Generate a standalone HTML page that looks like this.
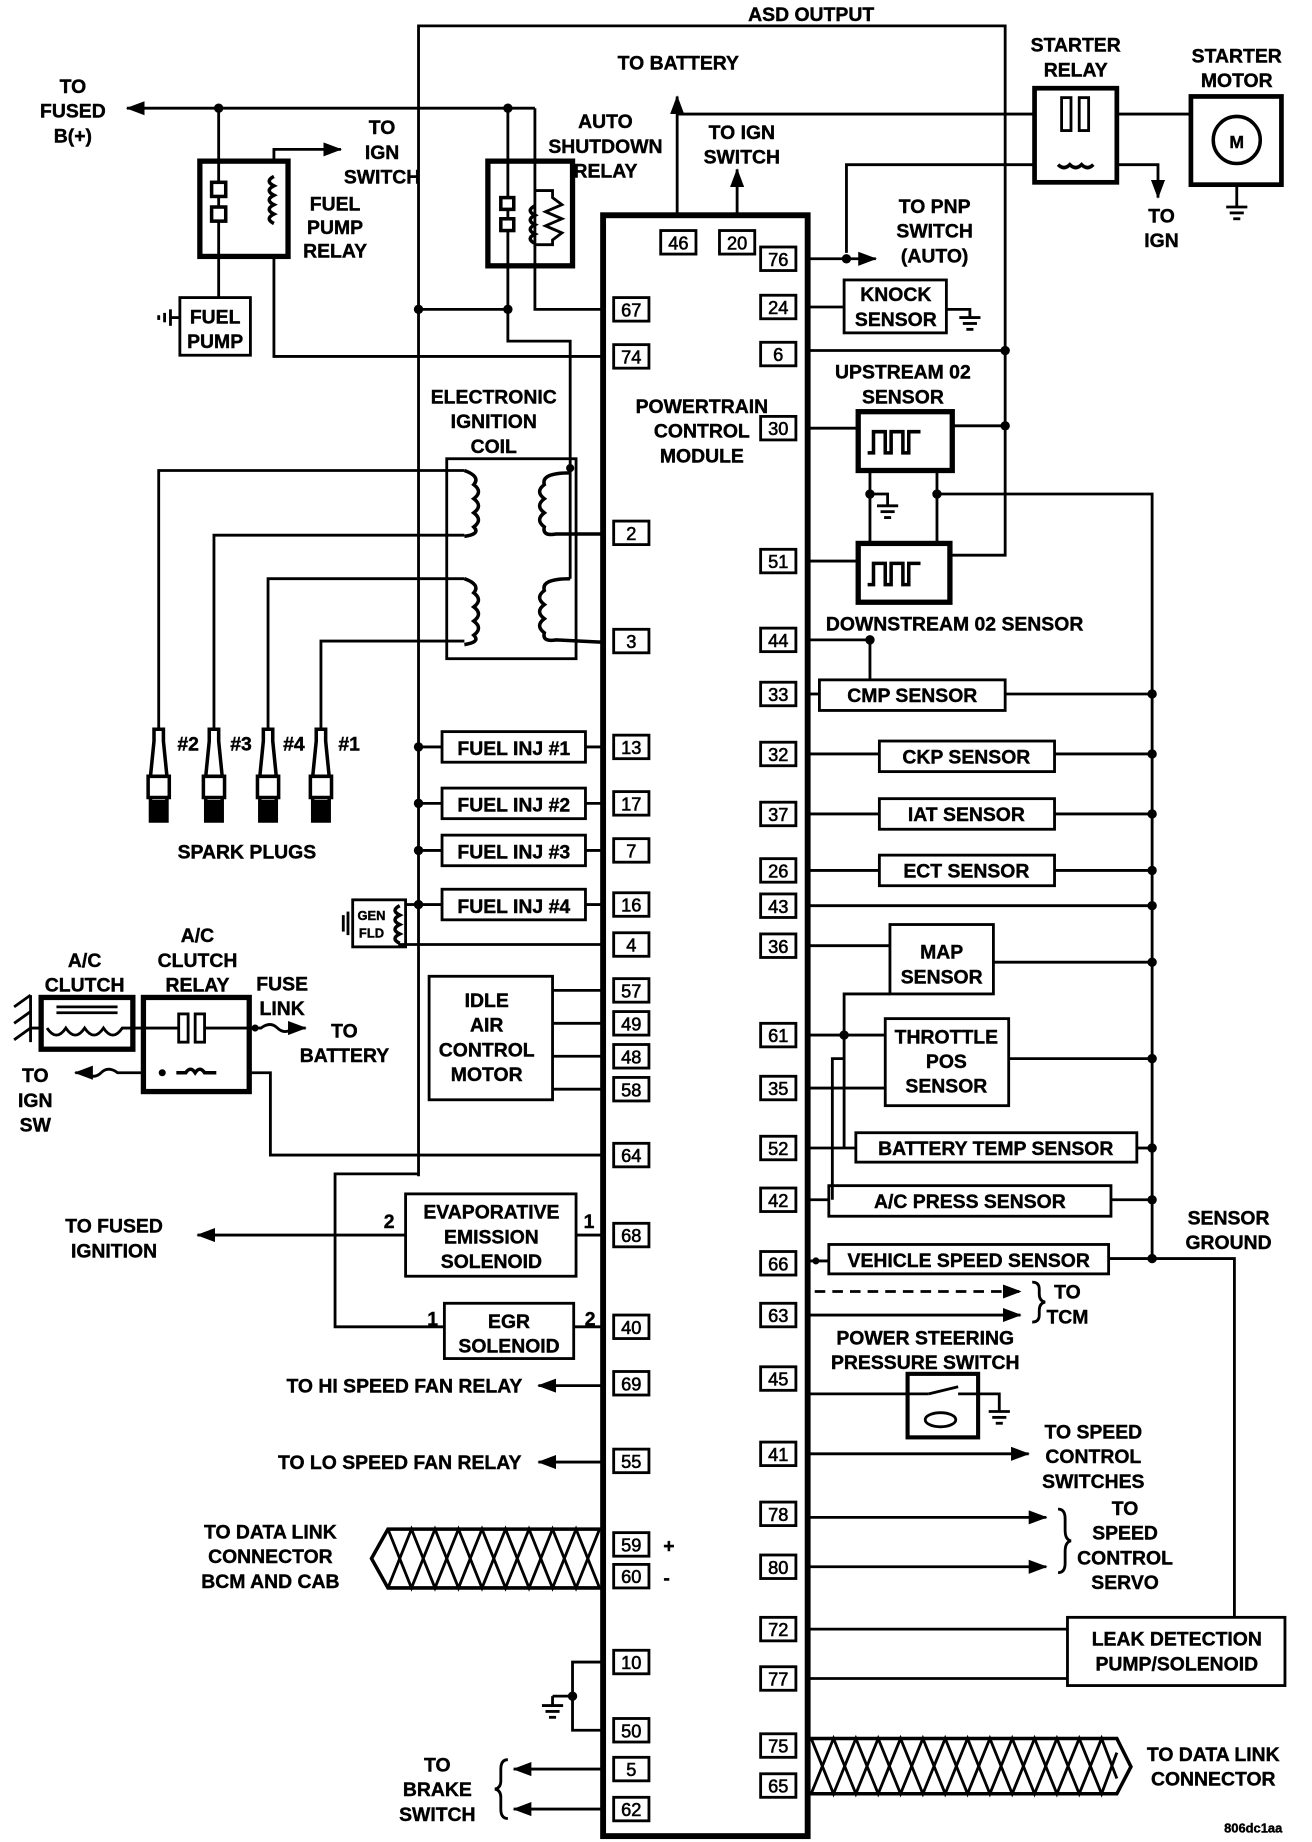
<!DOCTYPE html>
<html><head><meta charset="utf-8"><style>
html,body{margin:0;padding:0;background:#fff;}
svg{display:block;}
text{font-family:"Liberation Sans",sans-serif;font-weight:bold;font-size:16.5px;text-anchor:middle;fill:#000;stroke:#000;stroke-width:0.35px;}
.p{font-size:15.5px;font-weight:normal;stroke-width:0.5px;}
.s{font-size:11px;}
</style></head><body>
<svg width="1312" height="1842" viewBox="0 0 1116 1566" preserveAspectRatio="none" xmlns="http://www.w3.org/2000/svg">
<defs>
<marker id="b" markerWidth="16" markerHeight="12" refX="15" refY="6" orient="auto" markerUnits="userSpaceOnUse"><path d="M0,0 L16,6 L0,12 z" fill="#000"/></marker>
</defs>
<g fill="none" stroke="#000" stroke-width="2.4">
<polyline points="356,1000 356,22 855,22 855,472 808,472"/>
<line x1="576" y1="183" x2="576" y2="82" marker-end="url(#b)"/>
<line x1="627" y1="183" x2="627" y2="144" marker-end="url(#b)"/>
<line x1="576" y1="97" x2="880" y2="97"/>
<line x1="950" y1="97" x2="1013" y2="97"/>
<rect x="880" y="75" width="70" height="80" stroke-width="4"/>
<rect x="903" y="83" width="8" height="28"/><rect x="918" y="83" width="8" height="28"/>
<polyline points="720,215 720,140 880,140"/>
<polyline points="950,140 985,140 985,168" marker-end="url(#b)"/>
<path d="M900,140 q5,5 10,0 q5,5 10,0 q5,5 10,0" stroke-width="3"/>
<rect x="1013" y="82" width="77" height="75" stroke-width="4"/>
<circle cx="1052" cy="119" r="20" stroke-width="3"/>
<line x1="1052" y1="157" x2="1052" y2="176"/>
<line x1="1043" y1="176" x2="1061" y2="176"/><line x1="1046" y1="181" x2="1058" y2="181"/><line x1="1049" y1="186" x2="1055" y2="186"/>
<line x1="455" y1="92" x2="108" y2="92" marker-end="url(#b)"/>
<rect x="170" y="137" width="75" height="81" stroke-width="4.5"/>
<line x1="186" y1="92" x2="186" y2="253"/>
<rect x="180" y="155" width="12" height="12" fill="#fff" stroke-width="3"/><rect x="180" y="176" width="12" height="12" fill="#fff" stroke-width="3"/>
<polyline points="233,217 233,303 513,303"/>
<polyline points="233,137 233,127 290,127" marker-end="url(#b)"/>
<path d="M233,150 q-8,4 0,8 q-8,4 0,8 q-8,4 0,8 q-8,4 0,8 q-8,4 0,8" stroke-width="3"/>
<rect x="153" y="253" width="60" height="49"/>
<line x1="153" y1="270" x2="145" y2="270"/><line x1="145" y1="263" x2="145" y2="277"/><line x1="140" y1="266" x2="140" y2="274"/><line x1="135" y1="268" x2="135" y2="272"/>
<rect x="415" y="137" width="72" height="89" stroke-width="4.5"/>
<polyline points="432,92 432,290 485,290 485,398"/>
<rect x="426" y="168" width="11" height="10" fill="#fff" stroke-width="3"/><rect x="426" y="186" width="11" height="10" fill="#fff" stroke-width="3"/>
<polyline points="455,92 455,263 513,263"/>
<path d="M455,175 q-8,4 0,8 q-8,4 0,8 q-8,4 0,8 q-8,4 0,8" stroke-width="3"/>
<polyline points="455,162 470,162 470,168 478,174 464,180 478,186 464,192 478,198 470,204 470,208 455,208"/>
<line x1="356" y1="263" x2="432" y2="263"/>
<rect x="380" y="390" width="110" height="170"/>
<polyline points="135,620 135,400 395,400"/>
<polyline points="182,620 182,455 395,455"/>
<polyline points="228,620 228,492 395,492"/>
<polyline points="273,620 273,545 395,545"/>
<g stroke-width="3">
<path d="M395,400 q14,5 8,12 q8,6 0,12 q8,6 0,12 q8,6 0,12 q6,6 -8,8"/>
<path d="M395,492 q14,5 8,12 q8,6 0,12 q8,6 0,12 q8,6 0,12 q6,6 -8,8"/>
<path d="M485,402 q-25,0 -22,10 q-8,6 0,12 q-8,6 0,12 q-8,6 0,12 q-2,8 10,6 L513,454"/>
<path d="M485,492 q-25,0 -22,10 q-8,6 0,12 q-8,6 0,12 q-8,6 0,12 q-2,8 10,6 L513,546"/>
</g>
<line x1="485" y1="398" x2="485" y2="492"/>
<g stroke-width="3">
<path d="M131,620 h8 v10 l3,30 h-14 l3,-30 z M126,660 h18 v18 h-18 z M128,678 h14 v20 h-14 z"/>
<path d="M178,620 h8 v10 l3,30 h-14 l3,-30 z M173,660 h18 v18 h-18 z M175,678 h14 v20 h-14 z"/>
<path d="M224,620 h8 v10 l3,30 h-14 l3,-30 z M219,660 h18 v18 h-18 z M221,678 h14 v20 h-14 z"/>
<path d="M269,620 h8 v10 l3,30 h-14 l3,-30 z M264,660 h18 v18 h-18 z M266,678 h14 v20 h-14 z"/>
</g>
<g fill="#000" stroke="none"><rect x="128" y="680" width="14" height="18"/><rect x="175" y="680" width="14" height="18"/><rect x="221" y="680" width="14" height="18"/><rect x="266" y="680" width="14" height="18"/></g>
<line x1="356" y1="635" x2="376" y2="635"/><rect x="376" y="622" width="122" height="26"/><line x1="498" y1="635" x2="513" y2="635"/>
<line x1="356" y1="683" x2="376" y2="683"/><rect x="376" y="670" width="122" height="26"/><line x1="498" y1="683" x2="513" y2="683"/>
<line x1="356" y1="723" x2="376" y2="723"/><rect x="376" y="710" width="122" height="26"/><line x1="498" y1="723" x2="513" y2="723"/>
<line x1="356" y1="769" x2="376" y2="769"/><rect x="376" y="756" width="122" height="26"/><line x1="498" y1="769" x2="513" y2="769"/>
<rect x="300" y="765" width="45" height="40"/>
<line x1="345" y1="769" x2="356" y2="769"/>
<polyline points="340,805 340,803 513,803"/>
<path d="M340,770 q-8,4 0,8 q-8,4 0,8 q-8,4 0,8 q-8,4 0,8" stroke-width="3"/>
<line x1="296" y1="775" x2="296" y2="795"/><line x1="292" y1="778" x2="292" y2="792"/>
<rect x="365" y="830" width="105" height="105"/>
<line x1="470" y1="842" x2="513" y2="842"/><line x1="470" y1="870" x2="513" y2="870"/><line x1="470" y1="898" x2="513" y2="898"/><line x1="470" y1="926" x2="513" y2="926"/>
<rect x="35" y="848" width="78" height="44" stroke-width="4.5"/>
<line x1="48" y1="856" x2="100" y2="856"/><line x1="48" y1="861" x2="100" y2="861"/>
<path d="M40,874 q8,12 16,0 q8,12 16,0 q8,12 16,0 q8,12 16,0 L113,874 L122,874"/>
<path d="M12,856 l14,-10 M12,870 l14,-10 M12,884 l14,-10 M26,846 v40 M26,874 h10"/>
<rect x="122" y="848" width="90" height="80" stroke-width="4.5"/>
<line x1="122" y1="874" x2="152" y2="874"/>
<rect x="152" y="862" width="8" height="24"/><rect x="166" y="862" width="8" height="24"/>
<line x1="174" y1="874" x2="212" y2="874"/>
<path d="M212,874 h10 q8,-6 14,0 t14,0 h10" marker-end="url(#b)"/>
<polyline points="212,912 230,912 230,982 513,982"/>
<path d="M122,912 h-22 q-8,-6 -14,0 t-14,0 h-8" marker-end="url(#b)"/>
<path d="M150,912 h8 q4,-6 8,0 q4,-6 8,0 h10" stroke-width="3"/>
<polyline points="356,998 285,998 285,1128 378,1128"/>
<rect x="345" y="1015" width="145" height="70"/>
<line x1="345" y1="1050" x2="168" y2="1050" marker-end="url(#b)"/>
<line x1="490" y1="1050" x2="513" y2="1050"/>
<rect x="378" y="1108" width="110" height="47"/>
<line x1="488" y1="1128" x2="513" y2="1128"/>
<line x1="513" y1="1178" x2="458" y2="1178" marker-end="url(#b)"/>
<line x1="513" y1="1243" x2="458" y2="1243" marker-end="url(#b)"/>
<polyline points="513,1300 330,1300 316,1325 330,1350 513,1350" stroke-width="3"/>
<path d="M330,1300 L350,1350 L370,1300 L390,1350 L410,1300 L430,1350 L450,1300 L470,1350 L490,1300 L510,1350"/>
<path d="M330,1350 L350,1300 L370,1350 L390,1300 L410,1350 L430,1300 L450,1350 L470,1300 L490,1350 L510,1300"/>
<polyline points="513,1413 487,1413 487,1471 513,1471"/>
<line x1="487" y1="1442" x2="470" y2="1442"/>
<line x1="470" y1="1442" x2="470" y2="1450"/><line x1="461" y1="1450" x2="479" y2="1450"/><line x1="464" y1="1455" x2="476" y2="1455"/><line x1="467" y1="1460" x2="473" y2="1460"/>
<line x1="513" y1="1504" x2="437" y2="1504" marker-end="url(#b)"/>
<line x1="513" y1="1538" x2="437" y2="1538" marker-end="url(#b)"/>
<path d="M432,1496 q-6,0 -6,8 v10 q0,6 -5,7 q5,1 5,7 v10 q0,8 6,8"/>
<line x1="687" y1="220" x2="745" y2="220" marker-end="url(#b)"/>
<rect x="718" y="238" width="87" height="45"/>
<line x1="687" y1="261" x2="718" y2="261"/>
<polyline points="805,263 825,263 825,270"/><line x1="816" y1="270" x2="834" y2="270"/><line x1="819" y1="275" x2="831" y2="275"/><line x1="822" y1="280" x2="828" y2="280"/>
<line x1="687" y1="298" x2="855" y2="298"/>
<rect x="730" y="350" width="80" height="50" stroke-width="4.5"/>
<path d="M738,385 h5 v-18 h10 v18 h5 v-18 h10 v18 h5 v-18 h10" stroke-width="3"/>
<line x1="687" y1="364" x2="730" y2="364"/><line x1="810" y1="362" x2="855" y2="362"/>
<line x1="740" y1="400" x2="740" y2="462"/>
<polyline points="797,400 797,462"/>
<polyline points="797,420 980,420 980,1070"/>
<polyline points="740,420 755,420 755,430"/><line x1="746" y1="430" x2="764" y2="430"/><line x1="749" y1="435" x2="761" y2="435"/><line x1="752" y1="440" x2="758" y2="440"/>
<rect x="730" y="462" width="78" height="50" stroke-width="4.5"/>
<path d="M738,497 h5 v-18 h10 v18 h5 v-18 h10 v18 h5 v-18 h10" stroke-width="3"/>
<line x1="687" y1="477" x2="730" y2="477"/>
<polyline points="687,544 740,544 740,578"/>
<rect x="697" y="578" width="158" height="26"/><line x1="687" y1="590" x2="697" y2="590"/><line x1="855" y1="590" x2="980" y2="590"/>
<rect x="748" y="630" width="149" height="26"/><line x1="687" y1="641" x2="748" y2="641"/><line x1="897" y1="641" x2="980" y2="641"/>
<rect x="748" y="679" width="149" height="26"/><line x1="687" y1="692" x2="748" y2="692"/><line x1="897" y1="692" x2="980" y2="692"/>
<rect x="748" y="727" width="149" height="26"/><line x1="687" y1="740" x2="748" y2="740"/><line x1="897" y1="740" x2="980" y2="740"/>
<line x1="687" y1="770" x2="980" y2="770"/>
<rect x="757" y="786" width="88" height="59"/><line x1="687" y1="804" x2="757" y2="804"/><line x1="845" y1="818" x2="980" y2="818"/>
<polyline points="757,845 718,845 718,976"/>
<rect x="753" y="866" width="105" height="74"/><line x1="687" y1="880" x2="753" y2="880"/><line x1="687" y1="925" x2="753" y2="925"/><line x1="858" y1="900" x2="980" y2="900"/>
<polyline points="718,900 708,900 708,1020"/>
<rect x="728" y="963" width="239" height="25"/><line x1="687" y1="976" x2="728" y2="976"/><line x1="967" y1="976" x2="980" y2="976"/>
<rect x="705" y="1008" width="240" height="26"/><line x1="687" y1="1020" x2="705" y2="1020"/><line x1="945" y1="1020" x2="980" y2="1020"/>
<rect x="705" y="1058" width="238" height="25"/><line x1="687" y1="1072" x2="705" y2="1072"/>
<polyline points="943,1070 1050,1070 1050,1375"/>
<line x1="693" y1="1098" x2="868" y2="1098" stroke-dasharray="9,6" marker-end="url(#b)"/>
<line x1="687" y1="1118" x2="868" y2="1118" marker-end="url(#b)"/>
<path d="M878,1090 q6,0 6,6 v4 q0,6 5,7 q-5,1 -5,7 v4 q0,6 -6,6"/>
<rect x="772" y="1168" width="60" height="54" stroke-width="3.5"/>
<line x1="687" y1="1185" x2="790" y2="1185"/><path d="M790,1185 l25,-6 M815,1185 h35 v15"/><ellipse cx="800" cy="1207" rx="13" ry="6"/>
<line x1="841" y1="1200" x2="859" y2="1200"/><line x1="844" y1="1205" x2="856" y2="1205"/><line x1="847" y1="1210" x2="853" y2="1210"/>
<line x1="687" y1="1236" x2="875" y2="1236" marker-end="url(#b)"/>
<line x1="687" y1="1290" x2="890" y2="1290" marker-end="url(#b)"/>
<line x1="687" y1="1332" x2="890" y2="1332" marker-end="url(#b)"/>
<path d="M900,1283 q6,0 6,8 v10 q0,8 5,9 q-5,1 -5,9 v10 q0,8 -6,8"/>
<rect x="908" y="1375" width="185" height="58"/>
<line x1="687" y1="1385" x2="908" y2="1385"/><line x1="687" y1="1427" x2="908" y2="1427"/>
<polyline points="687,1478 950,1478 962,1502 950,1525 687,1525" stroke-width="3"/>
<path d="M690,1478 L709,1525 L728,1478 L747,1525 L766,1478 L785,1525 L804,1478 L823,1525 L842,1478 L861,1525 L880,1478 L899,1525 L918,1478 L937,1525 L950,1490"/>
<path d="M690,1525 L709,1478 L728,1525 L747,1478 L766,1525 L785,1478 L804,1525 L823,1478 L842,1525 L861,1478 L880,1525 L899,1478 L918,1525 L937,1478 L950,1512"/>
<rect x="513" y="183" width="174" height="1378" stroke-width="5"/>
</g>
<g fill="#000">
<circle cx="186" cy="92" r="4"/><circle cx="432" cy="92" r="4"/><circle cx="356" cy="263" r="4"/><circle cx="432" cy="263" r="4"/>
<circle cx="485" cy="398" r="3.5"/>
<circle cx="356" cy="635" r="4"/><circle cx="356" cy="683" r="4"/><circle cx="356" cy="723" r="4"/><circle cx="356" cy="769" r="4"/>
<circle cx="487" cy="1442" r="4"/><circle cx="720" cy="220" r="4"/><circle cx="855" cy="298" r="4"/><circle cx="855" cy="362" r="4"/>
<circle cx="740" cy="420" r="4"/><circle cx="797" cy="420" r="4"/><circle cx="740" cy="544" r="4"/>
<circle cx="980" cy="590" r="4"/><circle cx="980" cy="641" r="4"/><circle cx="980" cy="692" r="4"/><circle cx="980" cy="740" r="4"/><circle cx="980" cy="770" r="4"/><circle cx="980" cy="818" r="4"/><circle cx="980" cy="900" r="4"/><circle cx="980" cy="976" r="4"/><circle cx="980" cy="1020" r="4"/><circle cx="980" cy="1070" r="4"/>
<circle cx="718" cy="880" r="4"/><circle cx="694" cy="1072" r="3"/>
<circle cx="217" cy="874" r="3"/><circle cx="138" cy="912" r="3"/>
</g>
<g fill="#fff" stroke="#000" stroke-width="2.4">
<rect x="562" y="196" width="30" height="20"/><rect x="612" y="196" width="30" height="20"/>
<rect x="522" y="253" width="30" height="20"/><rect x="522" y="293" width="30" height="20"/><rect x="522" y="443" width="30" height="20"/><rect x="522" y="535" width="30" height="20"/>
<rect x="522" y="625" width="30" height="20"/><rect x="522" y="673" width="30" height="20"/><rect x="522" y="713" width="30" height="20"/><rect x="522" y="759" width="30" height="20"/>
<rect x="522" y="793" width="30" height="20"/><rect x="522" y="832" width="30" height="20"/><rect x="522" y="860" width="30" height="20"/><rect x="522" y="888" width="30" height="20"/>
<rect x="522" y="916" width="30" height="20"/><rect x="522" y="972" width="30" height="20"/><rect x="522" y="1040" width="30" height="20"/><rect x="522" y="1118" width="30" height="20"/>
<rect x="522" y="1166" width="30" height="20"/><rect x="522" y="1232" width="30" height="20"/><rect x="522" y="1303" width="30" height="20"/><rect x="522" y="1330" width="30" height="20"/>
<rect x="522" y="1403" width="30" height="20"/><rect x="522" y="1461" width="30" height="20"/><rect x="522" y="1494" width="30" height="20"/><rect x="522" y="1528" width="30" height="20"/>
<rect x="647" y="210" width="30" height="20"/><rect x="647" y="251" width="30" height="20"/><rect x="647" y="291" width="30" height="20"/><rect x="647" y="354" width="30" height="20"/>
<rect x="647" y="467" width="30" height="20"/><rect x="647" y="534" width="30" height="20"/><rect x="647" y="580" width="30" height="20"/><rect x="647" y="631" width="30" height="20"/>
<rect x="647" y="682" width="30" height="20"/><rect x="647" y="730" width="30" height="20"/><rect x="647" y="760" width="30" height="20"/><rect x="647" y="794" width="30" height="20"/>
<rect x="647" y="870" width="30" height="20"/><rect x="647" y="915" width="30" height="20"/><rect x="647" y="966" width="30" height="20"/><rect x="647" y="1010" width="30" height="20"/>
<rect x="647" y="1064" width="30" height="20"/><rect x="647" y="1108" width="30" height="20"/><rect x="647" y="1162" width="30" height="20"/><rect x="647" y="1226" width="30" height="20"/>
<rect x="647" y="1277" width="30" height="20"/><rect x="647" y="1322" width="30" height="20"/><rect x="647" y="1375" width="30" height="20"/><rect x="647" y="1417" width="30" height="20"/>
<rect x="647" y="1474" width="30" height="20"/><rect x="647" y="1508" width="30" height="20"/>
</g>
<g>
<text class="p" x="577" y="212">46</text><text class="p" x="627" y="212">20</text>
<text class="p" x="537" y="269">67</text><text class="p" x="537" y="309">74</text><text class="p" x="537" y="459">2</text><text class="p" x="537" y="551">3</text>
<text class="p" x="537" y="641">13</text><text class="p" x="537" y="689">17</text><text class="p" x="537" y="729">7</text><text class="p" x="537" y="775">16</text>
<text class="p" x="537" y="809">4</text><text class="p" x="537" y="848">57</text><text class="p" x="537" y="876">49</text><text class="p" x="537" y="904">48</text>
<text class="p" x="537" y="932">58</text><text class="p" x="537" y="988">64</text><text class="p" x="537" y="1056">68</text><text class="p" x="537" y="1134">40</text>
<text class="p" x="537" y="1182">69</text><text class="p" x="537" y="1248">55</text><text class="p" x="537" y="1319">59</text><text class="p" x="537" y="1346">60</text>
<text class="p" x="537" y="1419">10</text><text class="p" x="537" y="1477">50</text><text class="p" x="537" y="1510">5</text><text class="p" x="537" y="1544">62</text>
<text class="p" x="662" y="226">76</text><text class="p" x="662" y="267">24</text><text class="p" x="662" y="307">6</text><text class="p" x="662" y="370">30</text>
<text class="p" x="662" y="483">51</text><text class="p" x="662" y="550">44</text><text class="p" x="662" y="596">33</text><text class="p" x="662" y="647">32</text>
<text class="p" x="662" y="698">37</text><text class="p" x="662" y="746">26</text><text class="p" x="662" y="776">43</text><text class="p" x="662" y="810">36</text>
<text class="p" x="662" y="886">61</text><text class="p" x="662" y="931">35</text><text class="p" x="662" y="982">52</text><text class="p" x="662" y="1026">42</text>
<text class="p" x="662" y="1080">66</text><text class="p" x="662" y="1124">63</text><text class="p" x="662" y="1178">45</text><text class="p" x="662" y="1242">41</text>
<text class="p" x="662" y="1293">78</text><text class="p" x="662" y="1338">80</text><text class="p" x="662" y="1391">72</text><text class="p" x="662" y="1433">77</text>
<text class="p" x="662" y="1490">75</text><text class="p" x="662" y="1524">65</text>
</g>
<text x="690" y="18">ASD OUTPUT</text>
<text x="577" y="59">TO BATTERY</text>
<text x="631" y="118">TO IGN</text><text x="631" y="139">SWITCH</text>
<text x="915" y="44">STARTER</text><text x="915" y="65">RELAY</text>
<text x="1052" y="53">STARTER</text><text x="1052" y="74">MOTOR</text>
<text x="1052" y="126" style="font-size:15px">M</text>
<text x="988" y="189">TO</text><text x="988" y="210">IGN</text>
<text x="795" y="181">TO PNP</text><text x="795" y="202">SWITCH</text><text x="795" y="223">(AUTO)</text>
<text x="762" y="256">KNOCK</text><text x="762" y="277">SENSOR</text>
<text x="768" y="322">UPSTREAM 02</text><text x="768" y="343">SENSOR</text>
<text x="812" y="536">DOWNSTREAM 02 SENSOR</text>
<text x="776" y="597">CMP SENSOR</text>
<text x="822" y="649">CKP SENSOR</text>
<text x="822" y="698">IAT SENSOR</text>
<text x="822" y="746">ECT SENSOR</text>
<text x="801" y="815">MAP</text><text x="801" y="836">SENSOR</text>
<text x="805" y="887">THROTTLE</text><text x="805" y="908">POS</text><text x="805" y="929">SENSOR</text>
<text x="847" y="982">BATTERY TEMP SENSOR</text>
<text x="825" y="1027">A/C PRESS SENSOR</text>
<text x="824" y="1077">VEHICLE SPEED SENSOR</text>
<text x="1045" y="1041">SENSOR</text><text x="1045" y="1062">GROUND</text>
<text x="908" y="1104">TO</text><text x="908" y="1125">TCM</text>
<text x="787" y="1143">POWER STEERING</text><text x="787" y="1164">PRESSURE SWITCH</text>
<text x="930" y="1223">TO SPEED</text><text x="930" y="1244">CONTROL</text><text x="930" y="1265">SWITCHES</text>
<text x="957" y="1288">TO</text><text x="957" y="1309">SPEED</text><text x="957" y="1330">CONTROL</text><text x="957" y="1351">SERVO</text>
<text x="1001" y="1399">LEAK DETECTION</text><text x="1001" y="1420">PUMP/SOLENOID</text>
<text x="1032" y="1497">TO DATA LINK</text><text x="1032" y="1518">CONNECTOR</text>
<text class="s" x="1066" y="1558">806dc1aa</text>
<text x="597" y="351">POWERTRAIN</text><text x="597" y="372">CONTROL</text><text x="597" y="393">MODULE</text>
<text x="420" y="343">ELECTRONIC</text><text x="420" y="364">IGNITION</text><text x="420" y="385">COIL</text>
<text x="515" y="109">AUTO</text><text x="515" y="130">SHUTDOWN</text><text x="515" y="151">RELAY</text>
<text x="62" y="79">TO</text><text x="62" y="100">FUSED</text><text x="62" y="121">B(+)</text>
<text x="325" y="114">TO</text><text x="325" y="135">IGN</text><text x="325" y="156">SWITCH</text>
<text x="285" y="179">FUEL</text><text x="285" y="199">PUMP</text><text x="285" y="219">RELAY</text>
<text x="183" y="275">FUEL</text><text x="183" y="296">PUMP</text>
<text x="160" y="638">#2</text><text x="205" y="638">#3</text><text x="250" y="638">#4</text><text x="297" y="638">#1</text>
<text x="210" y="730">SPARK PLUGS</text>
<text x="437" y="642">FUEL INJ #1</text><text x="437" y="690">FUEL INJ #2</text><text x="437" y="730">FUEL INJ #3</text><text x="437" y="776">FUEL INJ #4</text>
<text class="s" x="316" y="782">GEN</text><text class="s" x="316" y="797">FLD</text>
<text x="414" y="856">IDLE</text><text x="414" y="877">AIR</text><text x="414" y="898">CONTROL</text><text x="414" y="919">MOTOR</text>
<text x="72" y="822">A/C</text><text x="72" y="843">CLUTCH</text>
<text x="168" y="801">A/C</text><text x="168" y="822">CLUTCH</text><text x="168" y="843">RELAY</text>
<text x="240" y="842">FUSE</text><text x="240" y="863">LINK</text>
<text x="293" y="882">TO</text><text x="293" y="903">BATTERY</text>
<text x="30" y="920">TO</text><text x="30" y="941">IGN</text><text x="30" y="962">SW</text>
<text x="97" y="1048">TO FUSED</text><text x="97" y="1069">IGNITION</text>
<text x="418" y="1036">EVAPORATIVE</text><text x="418" y="1057">EMISSION</text><text x="418" y="1078">SOLENOID</text>
<text x="331" y="1044">2</text><text x="501" y="1044">1</text>
<text x="433" y="1129">EGR</text><text x="433" y="1150">SOLENOID</text>
<text x="368" y="1127">1</text><text x="502" y="1127">2</text>
<text x="344" y="1184">TO HI SPEED FAN RELAY</text>
<text x="340" y="1249">TO LO SPEED FAN RELAY</text>
<text x="230" y="1308">TO DATA LINK</text><text x="230" y="1329">CONNECTOR</text><text x="230" y="1350">BCM AND CAB</text>
<text x="569" y="1320">+</text><text x="567" y="1347">-</text>
<text x="372" y="1506">TO</text><text x="372" y="1527">BRAKE</text><text x="372" y="1548">SWITCH</text>
</svg>
</body></html>
